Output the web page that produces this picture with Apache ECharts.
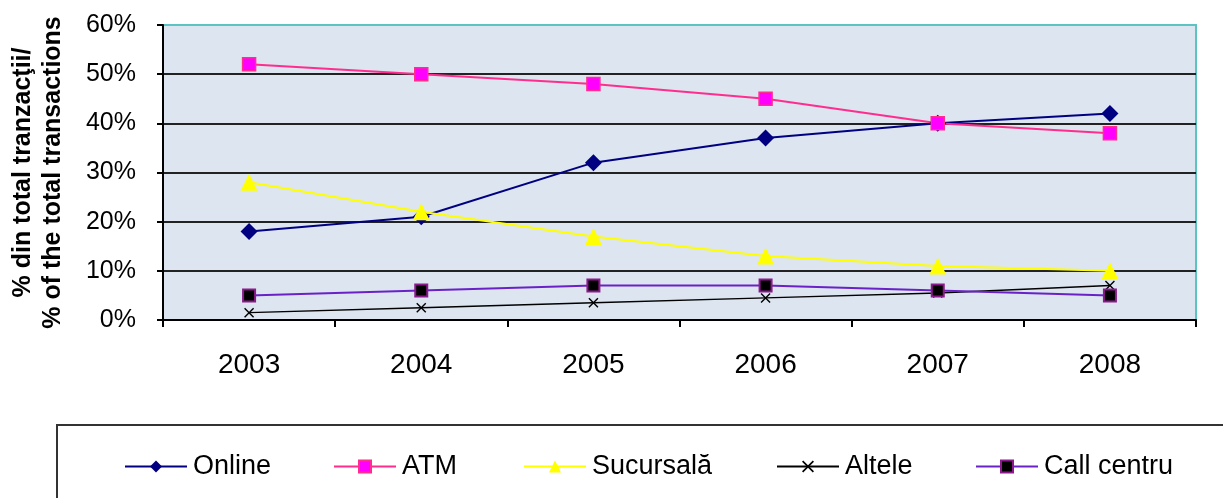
<!DOCTYPE html>
<html>
<head>
<meta charset="utf-8">
<script src="https://cdn.jsdelivr.net/npm/echarts@6/dist/echarts.min.js"></script>
<style>
  html, body { margin: 0; padding: 0; background: #fff; }
  #chart { width: 1223px; height: 498px; }
</style>
</head>
<body>
<div id="chart"></div>
<script>
// years on the x axis
var years = ['2003', '2004', '2005', '2006', '2007', '2008'];

// share of total transactions, %
var online = [18, 21, 32, 37, 40, 42];
var atm = [52, 50, 48, 45, 40, 38];
var sucursala = [28, 22, 17, 13, 11, 10];
var altele = [1.5, 2.5, 3.5, 4.5, 5.5, 7];
var callCentru = [5, 6, 7, 7, 6, 5];

var xSymbol = 'path://M0,1 L1,0 L5,4 L9,0 L10,1 L6,5 L10,9 L9,10 L5,6 L1,10 L0,9 L4,5 Z';

var chart = echarts.init(document.getElementById('chart'));

function legendAt(name, left) {
  return {
    data: [name],
    left: left,
    top: 453,
    padding: 0,
    itemWidth: 62,
    itemHeight: 15,
    itemGap: 0,
    textStyle: { fontFamily: 'Liberation Sans', fontSize: 27, color: '#000', padding: [0, 0, 0, 1] }
  };
}

var option = {
  animation: false,
  textStyle: { fontFamily: 'Liberation Sans' },
  grid: {
    left: 163, right: 27, top: 25, bottom: 178,
    show: true,
    backgroundColor: '#dce5f0',
    borderColor: '#5cc3c3',
    borderWidth: 2
  },
  graphic: [{
    type: 'rect',
    shape: { x: 57, y: 425, width: 1200, height: 100 },
    style: { fill: 'none', stroke: '#333', lineWidth: 2 }
  }],
  legend: [
    legendAt('Online', 124),
    legendAt('ATM', 333),
    legendAt('Sucursală', 523),
    legendAt('Altele', 776),
    legendAt('Call centru', 975)
  ],
  xAxis: {
    type: 'category',
    data: years,
    boundaryGap: true,
    axisLine: { lineStyle: { color: '#000', width: 2 } },
    axisTick: { show: true, length: 7, lineStyle: { color: '#000', width: 2 } },
    axisLabel: { fontSize: 28, color: '#000', margin: 31 }
  },
  yAxis: {
    type: 'value',
    min: 0,
    max: 60,
    interval: 10,
    name: '% din total tranzacţii/\n% of the total transactions',
    nameLocation: 'middle',
    nameRotate: 90,
    nameGap: 95,
    nameTextStyle: { fontSize: 25, fontWeight: 'bold', color: '#000', lineHeight: 30 },
    axisLine: { show: true, lineStyle: { color: '#000', width: 2 } },
    axisTick: { show: true, length: 6, lineStyle: { color: '#000', width: 2 } },
    axisLabel: { fontSize: 25, color: '#000', margin: 27, formatter: '{value}%' },
    splitLine: { show: true, showMaxLine: false, lineStyle: { color: '#222', width: 2 } }
  },
  series: [
    {
      name: 'Online', type: 'line', data: online,
      symbol: 'diamond', symbolSize: 17,
      lineStyle: { color: '#000080', width: 2 },
      itemStyle: { color: '#000080' }
    },
    {
      name: 'ATM', type: 'line', data: atm,
      symbol: 'rect', symbolSize: 13,
      lineStyle: { color: '#ff2d8e', width: 2 },
      itemStyle: { color: '#ff00ff', borderColor: '#ff2d8e', borderWidth: 1.5 }
    },
    {
      name: 'Sucursală', type: 'line', data: sucursala,
      symbol: 'triangle', symbolSize: 17,
      lineStyle: { color: '#ffff00', width: 2 },
      itemStyle: { color: '#ffff00' }
    },
    {
      name: 'Altele', type: 'line', data: altele,
      symbol: xSymbol, symbolSize: 10,
      lineStyle: { color: '#000', width: 1.5 },
      itemStyle: { color: '#000' }
    },
    {
      name: 'Call centru', type: 'line', data: callCentru,
      symbol: 'rect', symbolSize: 12,
      lineStyle: { color: '#6a22c8', width: 2 },
      itemStyle: { color: '#000', borderColor: '#8b1a8b', borderWidth: 2 }
    }
  ]
};

chart.setOption(option);
</script>
</body>
</html>
